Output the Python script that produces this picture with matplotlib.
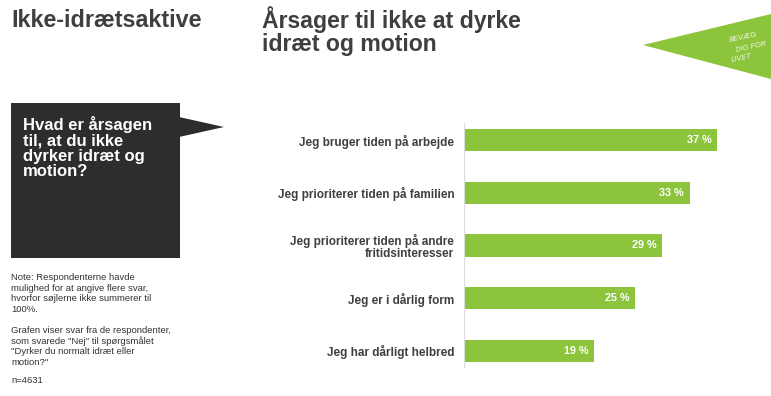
import matplotlib.pyplot as plt
from matplotlib.patches import Polygon, Rectangle

# Svar på spørgsmålet om årsager til ikke at dyrke idræt
categories = [
    "Jeg bruger tiden på arbejde",
    "Jeg prioriterer tiden på familien",
    "Jeg prioriterer tiden på andre\nfritidsinteresser",
    "Jeg er i dårlig form",
    "Jeg har dårligt helbred",
]
shares = [37, 33, 29, 25, 19]

question_lines = ["Hvad er årsagen", "til, at du ikke", "dyrker idræt og", "motion?"]
note_lines = [
    "Note: Respondenterne havde",
    "mulighed for at angive flere svar,",
    "hvorfor søjlerne ikke summerer til",
    "100%.",
]
source_lines = [
    "Grafen viser svar fra de respondenter,",
    "som svarede \"Nej\" til spørgsmålet",
    "\"Dyrker du normalt idræt eller",
    "motion?\"",
]

W, H = 771, 396
GREEN = "#8cc43c"
DARK = "#2d2d2d"
TEXT = "#3f3f3f"

plt.rcParams["font.family"] = ["Liberation Sans", "DejaVu Sans"]


def px(x, y):
    return x / W, 1 - y / H


fig = plt.figure(figsize=(W / 100, H / 100), dpi=100)
fig.patch.set_facecolor("white")

# overskrifter
fig.text(*px(11, 27), "Ikke-idrætsaktive", fontsize=16.8, fontweight="bold",
         color=TEXT, va="baseline")
fig.text(*px(262, 28), "Årsager til ikke at dyrke", fontsize=16.6,
         fontweight="bold", color=TEXT, va="baseline")
fig.text(*px(262, 51), "idræt og motion", fontsize=16.6,
         fontweight="bold", color=TEXT, va="baseline")

# vimpel-logo i øverste højre hjørne
pennant = Polygon([px(643, 45), px(771, 14), px(771, 79)], closed=True,
                  transform=fig.transFigure, facecolor=GREEN, edgecolor="none")
fig.patches.append(pennant)
for (lx, ly), word in zip([(729, 38), (735, 47), (731, 58)],
                          ["BEVÆG", "DIG FOR", "LIVET"]):
    fig.text(*px(lx, ly), word, fontsize=5.4, color="white", alpha=0.9,
             rotation=12, ha="left", va="center", style="italic")

# mørk taleboble med spørgsmålet
box = Rectangle(px(11, 258), 169 / W, 155 / H, transform=fig.transFigure,
                facecolor=DARK, edgecolor="none")
fig.patches.append(box)
tail = Polygon([px(179, 117), px(224, 127), px(179, 137)], closed=True,
               transform=fig.transFigure, facecolor=DARK, edgecolor="none")
fig.patches.append(tail)
for i, line in enumerate(question_lines):
    fig.text(*px(23, 130 + i * 15.3), line, fontsize=12, fontweight="bold",
             color="white", va="baseline")

# noter under boblen
for i, line in enumerate(note_lines):
    fig.text(*px(11, 280 + i * 10.6), line, fontsize=6.8, color="#333333",
             va="baseline")
for i, line in enumerate(source_lines):
    fig.text(*px(11, 333 + i * 10.6), line, fontsize=6.8, color="#333333",
             va="baseline")
fig.text(*px(11, 383), "n=4631", fontsize=6.8, color="#333333", va="baseline")

# søjlediagram
left, right = 464, 464 + 6.84 * 40
top, bottom = 114, 377
ax = fig.add_axes([left / W, 1 - bottom / H, (right - left) / W, (bottom - top) / H])
ypos = list(range(len(categories)))
ax.barh(ypos, shares, height=0.42, color=GREEN, edgecolor="none")
ax.set_xlim(0, 40)
ax.set_ylim(len(categories) - 0.5, -0.5)
ax.axvline(0, ymin=0.038, ymax=0.966, color="#dddddd", linewidth=0.8)

for y, value in zip(ypos, shares):
    ax.text(value - 0.85, y, f"{value} %", ha="right", va="center",
            fontsize=7.8, fontweight="bold", color="white")

ax.set_yticks(ypos)
ax.set_yticklabels(categories, fontsize=8.5, fontweight="bold", color=TEXT,
                   linespacing=1.05)
ax.tick_params(axis="y", length=0, pad=7)
ax.set_xticks([])
for spine in ax.spines.values():
    spine.set_visible(False)
ax.patch.set_alpha(0)

fig.savefig("out.png", dpi=100)
